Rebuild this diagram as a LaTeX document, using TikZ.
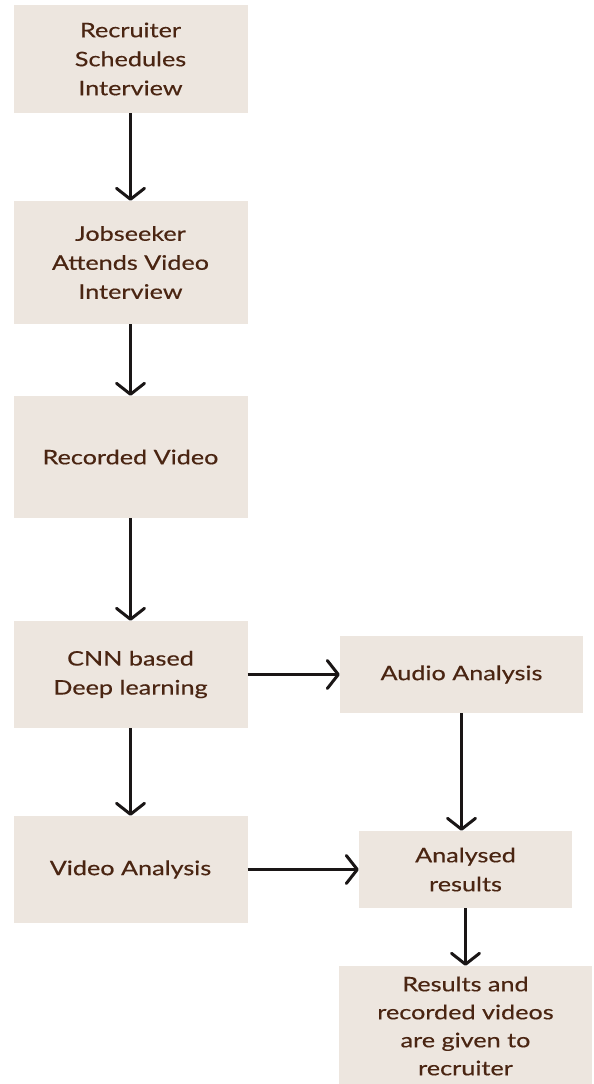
\documentclass[tikz,border=0pt]{standalone}
\usepackage{fontspec}
\setmainfont{Lato}[FakeStretch=1.26,FakeBold=0.4]
\usetikzlibrary{arrows.meta}
\definecolor{boxfill}{HTML}{EDE6DF}
\definecolor{boxtext}{HTML}{4A2512}
\definecolor{arrowcol}{HTML}{1A1616}
\tikzset{
  stepbox/.style={fill=boxfill, draw=none, text=boxtext, align=center, inner sep=0pt,
    font=\fontsize{20}{29}\selectfont},
  arr/.style={draw=arrowcol, line width=3pt,
    -{Straight Barb[length=11pt,width=28pt,line width=3pt,round]}}
}
\begin{document}
\begin{tikzpicture}[x=1pt,y=-1pt]
\useasboundingbox (0,0) rectangle (594,1084);
\node[stepbox, minimum width=234pt, minimum height=108pt] (b1) at (130.5,59) {Recruiter\\Schedules\\Interview};
\node[stepbox, minimum width=234pt, minimum height=123pt] (b2) at (130.5,262.5) {Jobseeker\\Attends Video\\Interview};
\node[stepbox, minimum width=234pt, minimum height=122pt] (b3) at (130.5,457) {Recorded Video};
\node[stepbox, minimum width=234pt, minimum height=107pt] (b4) at (130.5,674.5) {CNN based\\Deep learning};
\node[stepbox, minimum width=234pt, minimum height=107pt] (b5) at (130.5,869.5) {Video Analysis};
\node[stepbox, minimum width=243pt, minimum height=77pt] (au) at (461.5,674.5) {Audio Analysis};
\node[stepbox, minimum width=213pt, minimum height=77pt] (an) at (465.5,869.5) {Analysed\\results};
\node[stepbox, font=\fontsize{20}{28}\selectfont, minimum width=253pt, minimum height=120pt] (fin) at (465.5,1026) {Results and\\recorded videos\\are given to\\recruiter};
\draw[arr] (b1.south) -- (b2.north);
\draw[arr] (b2.south) -- (b3.north);
\draw[arr] (b3.south) -- (b4.north);
\draw[arr] (b4.south) -- (b5.north);
\draw[arr] (b4.east) -- (au.west);
\draw[arr] (b5.east) -- (an.west);
\draw[arr] (au.south) -- (au.south |- an.north);
\draw[arr] (an.south) -- (fin.north);
\end{tikzpicture}
\end{document}
